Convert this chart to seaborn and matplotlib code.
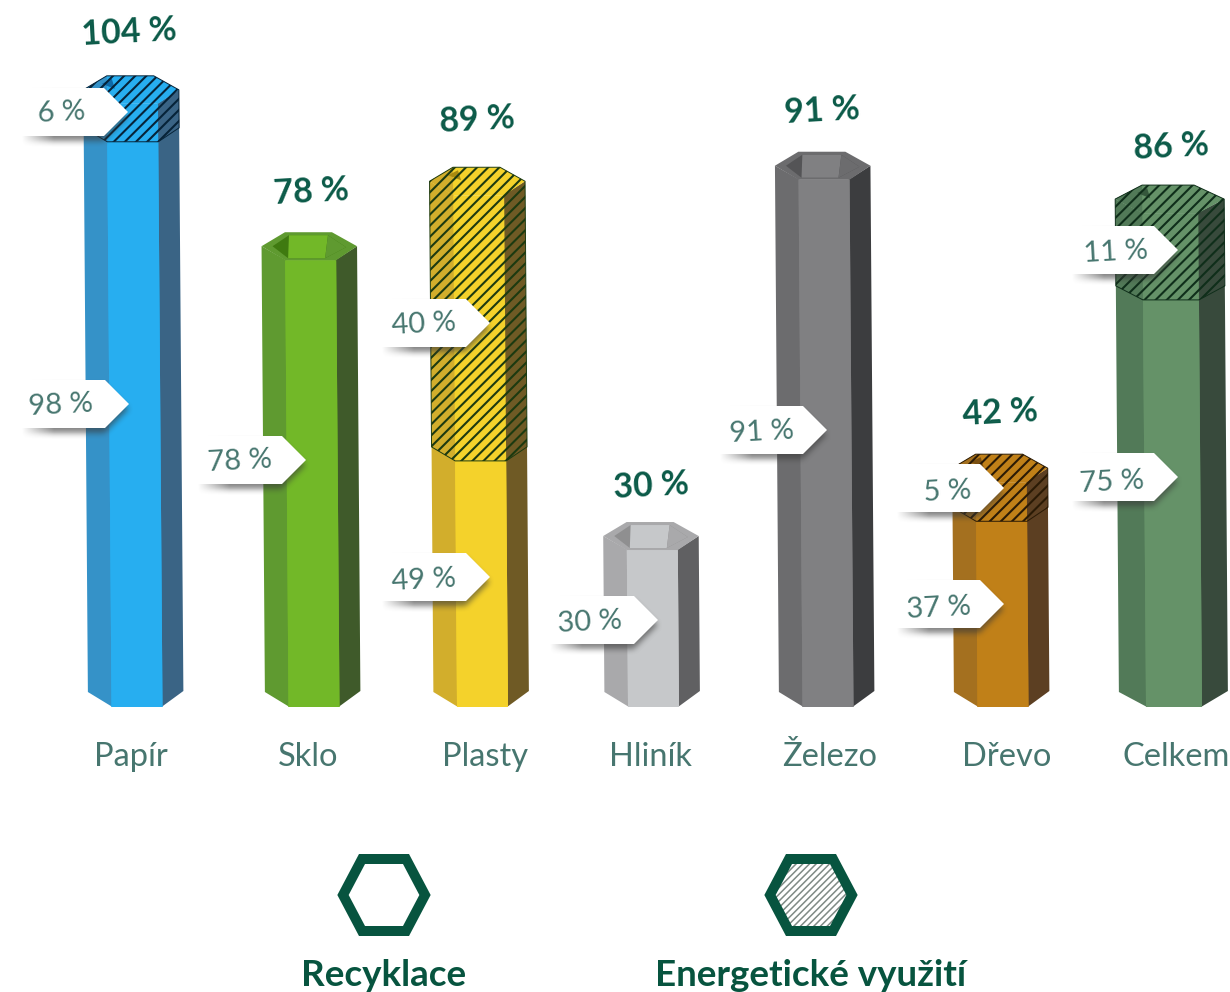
import numpy as np
import pandas as pd
import matplotlib
matplotlib.use("Agg")
import matplotlib.pyplot as plt
from matplotlib.patches import Polygon
from matplotlib.transforms import Affine2D
import seaborn as sns

# ---------- data ----------
categories = ["Papír", "Sklo", "Plasty", "Hliník", "Železo", "Dřevo", "Celkem"]
# printed labels
total_labels = [104, 78, 89, 30, 91, 42, 86]
recycled_labels = [98, 78, 49, 30, 91, 37, 75]
energy_labels = [6, None, 40, None, None, 5, 11]
# heights as drawn in the picture (the drawing is not strictly to scale)
recycled_drawn = [98.3, 77.7, 42.8, 27.3, 91.7, 32.3, 70.8]
energy_drawn = [6.6, 0, 46.2, 0, 0, 6.8, 15.1]

front_colors = ["#27aef0", "#72b828", "#f4d22b", "#c6c8ca", "#808082", "#c08018", "#659268"]
left_colors = ["#3592c8", "#5f9a30", "#d2ae2c", "#a9a9ab", "#6c6c6e", "#a4701f", "#527a58"]
right_colors = ["#3a6485", "#3f5a2a", "#6f5a25", "#606062", "#3c3d3f", "#5c3f22", "#384a3c"]
hole_colors = ["#0f6aa8", "#3f7a10", "#a88a10", "#8f8f90", "#545456", "#7a4f10", "#35573c"]
hatch_colors = ["#062338", "#1c3a10", "#1c3a10", "#2a1a05", "#2a1a05", "#2a1a05", "#0f2e1a"]

# ---------- layout (pixels) ----------
W, H, BASE, PX_PER_UNIT = 1230, 992, 707, 5.75
CENTER_X = [137, 314, 482.5, 653.5, 828, 1003, 1174]
LABEL_X = [131, 308, 485, 650, 830, 1007, 1176]
HALF_FRONT = [25.5] * 6 + [28]
LEFT_W = [23.5] * 6 + [27]
RIGHT_W = [21] * 6 + [26]
TOTAL_POS = [(129, 33), (311, 192), (477, 120), (651, 486), (822, 111), (1000, 413), (1171, 147)]
# (tip x, mid y, left x, text x, text y)
REC_CALL = [(129, 404, 20, 61, 405), (306, 460, 196, 240, 461), (490, 577, 380, 424, 580),
            (658, 620, 548, 590, 622), (827, 430, 718, 762, 432), (1004, 604, 895, 939, 608),
            (1178, 477, 1070, 1112, 482)]
EN_CALL = [(128, 112, 20, 61, 113), None, (490, 323, 380, 424, 324), None, None,
           (1004, 488, 895, 947, 492), (1178, 250, 1070, 1116, 252)]
LEAN = 0.0075

sns.set_theme(style="white")
plt.rcParams["font.family"] = ["Lato", "DejaVu Sans"]
plt.rcParams["hatch.linewidth"] = 1.5

GREEN = "#0b5a48"
TEXT = "#47766f"

fig = plt.figure(figsize=(W / 100, H / 100), dpi=100, facecolor="white")
ax = fig.add_axes([0, (H - BASE) / H, 1, BASE / H])

df = pd.DataFrame({"x": CENTER_X, "cat": categories, "rec": recycled_drawn, "en": energy_drawn})
df["total"] = df["rec"] + df["en"]
pal = dict(zip(categories, front_colors))
spacing = np.diff(CENTER_X).min()
common = dict(data=df, x="x", hue="cat", palette=pal, native_scale=True, dodge=False, legend=False,
              saturation=1, errorbar=None, width=51 / spacing, ax=ax, zorder=2, linewidth=0)
sns.barplot(y="total", **common)
sns.barplot(y="rec", **common)

ax.set_xlim(0, W)
ax.set_ylim(0, BASE / PX_PER_UNIT)
sns.despine(ax=ax, left=True, bottom=True, top=True, right=True)
ax.set_facecolor("none")
ax.set_xlabel("")
ax.set_ylabel("")
ax.set_yticks([])
ax.set_xticks(LABEL_X, categories)
ax.tick_params(axis="x", length=0, pad=25, labelsize=23.5, labelcolor=TEXT)

to_px = Affine2D().scale(1, -1).translate(0, H)           # top-left pixel space <-> display
lean_px = Affine2D.from_values(1, 0, LEAN, 1, -LEAN * BASE, 0)
PX = lean_px + to_px
PLAIN = to_px


def ypx(v):
    return H - ax.transData.transform((0, v))[1]


# widen the last column and apply the slight lean of the artwork to the bars
for bar in ax.patches:
    cx = bar.get_x() + bar.get_width() / 2
    i = int(np.argmin(np.abs(np.array(CENTER_X) - cx)))
    bar.set_x(CENTER_X[i] - HALF_FRONT[i])
    bar.set_width(2 * HALF_FRONT[i])
    bar.set_transform(ax.transData + to_px + lean_px + to_px)
    bar.set_clip_on(False)


def poly(pts, z, tr=PX, **kw):
    kw.setdefault("lw", 0)
    p = Polygon(pts, closed=True, transform=tr, clip_on=False, zorder=z, **kw)
    ax.add_patch(p)
    return p


for i, cat in enumerate(categories):
    c, hf, lw_, rw = CENTER_X[i], HALF_FRONT[i], LEFT_W[i], RIGHT_W[i]
    total = recycled_drawn[i] + energy_drawn[i]
    yt, yb = ypx(total), BASE
    lx, fl, fr, rx = c - hf - lw_, c - hf, c + hf, c + hf + rw
    # side faces (tucked slightly under the front bar so no seam shows)
    poly([(lx, yt - 14), (fl + 1, yt), (fl + 1, yb), (lx, yb - 15)], 1.9, fc=left_colors[i])
    poly([(rx, yt - 14), (fr - 1, yt), (fr - 1, yb), (rx, yb - 16)], 1.9, fc=right_colors[i])
    # top of the tube
    top = [(lx, yt - 14), (fl, yt - 28), (fr - 4, yt - 28), (rx, yt - 14), (fr, yt), (fl, yt)]
    if energy_drawn[i] == 0:
        poly(top, 3, fc=left_colors[i])
        hole = [(lx + 11, yt - 14), (fl + 4, yt - 25), (fr - 8, yt - 25), (rx - 11, yt - 13),
                (fr - 11, yt - 2), (fl + 3, yt - 2)]
        poly(hole, 3.1, fc=hole_colors[i])
        poly([(fl + 4, yt - 25), (fr - 8, yt - 25), (fr - 11, yt - 2), (fl + 3, yt - 2)], 3.2, fc=front_colors[i])
        poly([(fr - 8, yt - 25), (rx - 11, yt - 13), (fr - 11, yt - 2)], 3.2, fc=left_colors[i])
    else:
        poly(top, 3, fc=front_colors[i])
        poly([(lx, yt - 14), (fl, yt - 28), (fl, yt)], 3.1, fc=left_colors[i])
        poly([(fl - 5, yt - 20), (fl + 5, yt - 25), (fl + 8, yt - 15)], 3.2, fc=hole_colors[i])
        y0 = ypx(recycled_drawn[i])
        sil = [(fl, y0), (fr, y0), (rx, y0 - 14), (rx, yt - 14), (fr - 4, yt - 28), (fl, yt - 28),
               (lx, yt - 14), (lx, y0 - 14)]
        poly(sil, 4, fc="none", ec=hatch_colors[i], hatch="///", lw=0.7)


def callout(tip, mid, left, half=24, slope=24):
    # blurred shadow under the white tag
    x0, x1, y0, y1 = int(left - 6), int(tip + 14), int(mid - half - 4), int(mid + half + 18)
    xs, ys = np.meshgrid(np.arange(x0, x1) + .5, np.arange(y0, y1) + .5)
    mask = ((ys > mid - half + 5) & (ys < mid + half + 5) & (xs < tip - np.abs(ys - mid - 5))).astype(float)
    kern = np.ones(7) / 7
    for _ in range(2):
        mask = np.apply_along_axis(lambda r: np.convolve(r, kern, "same"), 0, mask)
        mask = np.apply_along_axis(lambda r: np.convolve(r, kern, "same"), 1, mask)
    ramp = np.clip((xs - left - 2) / 32, 0, 1)
    rgba = np.zeros(mask.shape + (4,))
    rgba[..., :3] = 0.22
    rgba[..., 3] = 0.62 * mask * ramp
    extent = (x0, x1, (BASE - y1) / PX_PER_UNIT, (BASE - y0) / PX_PER_UNIT)
    ax.imshow(rgba, extent=extent, aspect="auto", zorder=5, interpolation="bilinear")
    poly([(left, mid - half), (tip - slope, mid - half), (tip, mid), (tip - slope, mid + half), (left, mid + half)],
         6, tr=PLAIN, fc="white")


for i in range(len(categories)):
    tip, mid, left, tx, ty = REC_CALL[i]
    callout(tip, mid, left)
    ax.text(tx, ty, f"{recycled_labels[i]} %", transform=PLAIN, ha="center", va="center", rotation=3,
            fontsize=21, color=TEXT, zorder=7)
    if EN_CALL[i] is not None:
        tip, mid, left, tx, ty = EN_CALL[i]
        callout(tip, mid, left)
        ax.text(tx, ty, f"{energy_labels[i]} %", transform=PLAIN, ha="center", va="center", rotation=3,
                fontsize=21, color=TEXT, zorder=7)
    tx, ty = TOTAL_POS[i]
    ax.text(tx, ty, f"{total_labels[i]} %", transform=PLAIN, ha="center", va="center", rotation=3,
            fontsize=24.5, color=GREEN, fontweight="bold", zorder=7)

ax.set_xlim(0, W)
ax.set_ylim(0, BASE / PX_PER_UNIT)

# legend


def hexagon(cx, cy):
    return [(cx - 41, cy), (cx - 22, cy - 36), (cx + 22, cy - 36), (cx + 41, cy), (cx + 22, cy + 36), (cx - 22, cy + 36)]


poly(hexagon(384, 895), 3, tr=PLAIN, fc="none", ec="#07543f", lw=7.2, joinstyle="miter")
plt.rcParams["hatch.linewidth"] = 1.1
poly(hexagon(811, 895), 2.9, tr=PLAIN, fc="white", ec="#7f8a85", hatch="/////")
poly(hexagon(811, 895), 3, tr=PLAIN, fc="none", ec="#07543f", lw=7.2, joinstyle="miter")
ax.text(384, 976, "Recyklace", transform=PLAIN, ha="center", va="center", fontsize=26.5, color="#07543f", fontweight="bold")
ax.text(811, 976, "Energetické využití", transform=PLAIN, ha="center", va="center", fontsize=26.5, color="#07543f", fontweight="bold")

fig.savefig("out.png", dpi=100, facecolor="white")
